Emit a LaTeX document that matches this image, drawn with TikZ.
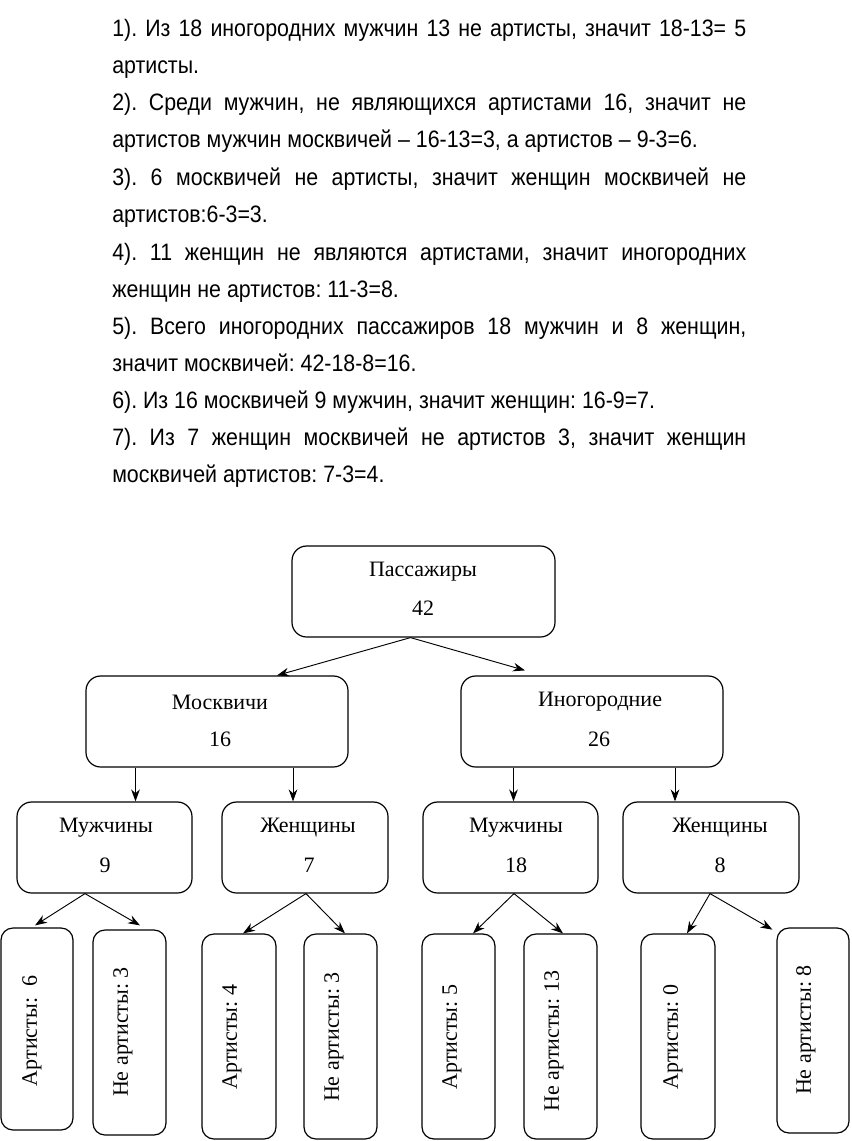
\documentclass[tikz,border=0pt]{standalone}
\usepackage{fontspec}
\setmainfont{Liberation Serif}
\newfontfamily\txtfont[FakeStretch=0.9]{Liberation Sans}
\usetikzlibrary{arrows.meta}
\newdimen\pxu \pxu=0.75pt
\frenchspacing
\begin{document}
\begin{tikzpicture}[x=0.75pt,y=-0.75pt,
  tline/.style={anchor=base west, inner sep=0pt, font=\txtfont\fontsize{17.8}{19}\selectfont},
  box/.style={draw, rounded corners=11pt, line width=0.9pt, inner sep=0pt},
  tbox/.style={draw, rounded corners=9pt, line width=0.9pt, inner sep=0pt},
  lbl/.style={font=\fontsize{16.5}{18}\selectfont, inner sep=0pt},
  vlbl/.style={font=\fontsize{16.5}{18}\selectfont, inner sep=0pt, rotate=90},
  arr/.style={-{Stealth[length=9pt,width=6.5pt]}, line width=0.7pt}]
\useasboundingbox (0,0) rectangle (851,1141);
\fill[white] (0,0) rectangle (851,1141);

% ---- text ----
\newcommand\jline[1]{\makebox[634\pxu][s]{#1}}
\node[tline] (t1)  at (112,37)  {\jline{1). Из 18 иногородних мужчин 13 не артисты, значит 18-13= 5}};
\node[tline] (t2)  at (112,74)  {артисты.};
\node[tline] (t3)  at (112,111) {\jline{2). Среди мужчин, не являющихся артистами 16, значит не}};
\node[tline] (t4)  at (112,148) {артистов мужчин москвичей – 16-13=3, а артистов – 9-3=6.};
\node[tline] (t5)  at (112,186) {\jline{3). 6 москвичей не артисты, значит женщин москвичей не}};
\node[tline] (t6)  at (112,223) {артистов:6-3=3.};
\node[tline] (t7)  at (112,260) {\jline{4). 11 женщин не являются артистами, значит иногородних}};
\node[tline] (t8)  at (112,297) {женщин не артистов: 11-3=8.};
\node[tline] (t9)  at (112,334) {\jline{5). Всего иногородних пассажиров 18 мужчин и 8 женщин,}};
\node[tline] (t10) at (112,371) {значит москвичей: 42-18-8=16.};
\node[tline] (t11) at (112,408) {6). Из 16 москвичей 9 мужчин, значит женщин: 16-9=7.};
\node[tline] (t12) at (112,445) {\jline{7). Из 7 женщин москвичей не артистов 3, значит женщин}};
\node[tline] (t13) at (112,482) {москвичей артистов: 7-3=4.};

% ---- level 0 ----
\node[box, minimum width=263\pxu, minimum height=91\pxu] (p) at (423.5,591.5) {};
\node[lbl] (pa) at (423,572) {Пассажиры};
\node[lbl] (pb) at (423,608) {42};

% ---- level 1 ----
\node[box, minimum width=262\pxu, minimum height=91\pxu] (mo) at (217,721.5) {};
\node[lbl] (moa) at (220,702) {Москвичи};
\node[lbl] (mob) at (220,739) {16};
\node[box, minimum width=262\pxu, minimum height=91\pxu] (ino) at (592,721.5) {};
\node[lbl] (inoa) at (600,702) {Иногородние};
\node[lbl] (inob) at (599,739) {26};

% ---- level 2 ----
\node[box, minimum width=175\pxu, minimum height=91\pxu] (m9) at (104.5,847.5) {};
\node[lbl] (m9a) at (106,828) {Мужчины};
\node[lbl] (m9b) at (105,865) {9};
\node[box, minimum width=166\pxu, minimum height=91\pxu] (w7) at (305,847.5) {};
\node[lbl] (w7a) at (308,828) {Женщины};
\node[lbl] (w7b) at (309,865) {7};
\node[box, minimum width=175\pxu, minimum height=91\pxu] (m18) at (510.5,847.5) {};
\node[lbl] (m18a) at (516,828) {Мужчины};
\node[lbl] (m18b) at (516,865) {18};
\node[box, minimum width=176\pxu, minimum height=91\pxu] (w8) at (711,847.5) {};
\node[lbl] (w8a) at (720,828) {Женщины};
\node[lbl] (w8b) at (720,865) {8};

% ---- level 3 ----
\node[tbox, minimum width=72\pxu, minimum height=202\pxu] (b1) at (37,1029) {};
\node[vlbl] (b1t) at (32,1031) {Артисты:\ \ 6};
\node[tbox, minimum width=73\pxu, minimum height=205\pxu] (b2) at (129.5,1032.5) {};
\node[vlbl] (b2t) at (123,1032) {Не артисты: 3};
\node[tbox, minimum width=74\pxu, minimum height=205\pxu] (b3) at (239,1036.5) {};
\node[vlbl] (b3t) at (232,1037) {Артисты: 4};
\node[tbox, minimum width=73\pxu, minimum height=205\pxu] (b4) at (340.5,1036.5) {};
\node[vlbl] (b4t) at (334,1037) {Не артисты: 3};
\node[tbox, minimum width=73\pxu, minimum height=205\pxu] (b5) at (458.5,1036.5) {};
\node[vlbl] (b5t) at (452,1037) {Артисты: 5};
\node[tbox, minimum width=73\pxu, minimum height=205\pxu] (b6) at (560.5,1036.5) {};
\node[vlbl] (b6t) at (554,1041) {Не артисты: 13};
\node[tbox, minimum width=74\pxu, minimum height=205\pxu] (b7) at (678,1036.5) {};
\node[vlbl] (b7t) at (673,1037) {Артисты: 0};
\node[tbox, minimum width=72\pxu, minimum height=205\pxu] (b8) at (813,1030.5) {};
\node[vlbl] (b8t) at (806,1030) {Не артисты: 8};

% ---- arrows ----
\coordinate (pS) at ([xshift=-13\pxu]p.south);
\draw[arr] (pS) -- ([xshift=60\pxu]mo.north);
\draw[arr] (pS) -- ([xshift=-67\pxu,yshift=5\pxu]ino.north);

\draw[arr] ([xshift=-81.5\pxu]mo.south) -- ([xshift=-81.5\pxu]mo.south |- m9.north);
\draw[arr] ([xshift=76\pxu]mo.south) -- ([xshift=76\pxu]mo.south |- w7.north);
\draw[arr] ([xshift=-78.5\pxu]ino.south) -- ([xshift=-78.5\pxu]ino.south |- m18.north);
\draw[arr] ([xshift=83\pxu]ino.south) -- ([xshift=83\pxu]ino.south |- w8.north);

\coordinate (m9S) at ([xshift=-19.5\pxu]m9.south);
\draw[arr] (m9S) -- ([xshift=-2\pxu,yshift=2\pxu]b1.north);
\draw[arr] (m9S) -- ([xshift=10.5\pxu,yshift=4\pxu]b2.north);
\coordinate (w7S) at ([xshift=1\pxu]w7.south);
\draw[arr] (w7S) -- ([xshift=4\pxu]b3.north);
\draw[arr] (w7S) -- ([xshift=4.5\pxu]b4.north);
\coordinate (m18S) at ([xshift=3.5\pxu]m18.south);
\draw[arr] (m18S) -- ([xshift=14.5\pxu]b5.north);
\draw[arr] (m18S) -- ([xshift=2.5\pxu]b6.north);
\coordinate (w8S) at ([xshift=-1\pxu]w8.south);
\draw[arr] (w8S) -- ([xshift=9\pxu]b7.north);
\draw[arr] (w8S) -- ([xshift=-4\pxu,yshift=-2.25\pxu]b8.north west);
\end{tikzpicture}
\end{document}
